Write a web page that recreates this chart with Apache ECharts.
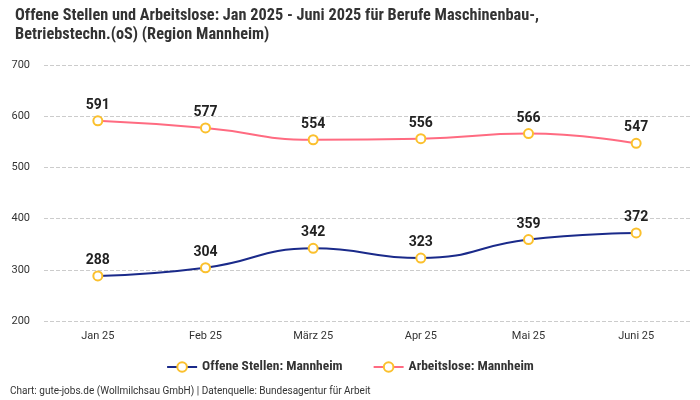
<!DOCTYPE html>
<html><head><meta charset="utf-8">
<script src="https://cdn.jsdelivr.net/npm/echarts@6/dist/echarts.min.js"></script>
<style>html,body{margin:0;padding:0;background:#fff}#c{width:700px;height:400px}</style>
</head><body><div id="c"></div>
<script>
const categories = ['Jan 25','Feb 25','März 25','Apr 25','Mai 25','Juni 25'];
const offeneStellen = [288,304,342,323,359,372];
const arbeitslose = [591,577,554,556,566,547];
const yTicks = [200,300,400,500,600,700];

const chart = echarts.init(document.getElementById('c'));
const lbl = {show:true, position:'top', distance:3, fontFamily:'Roboto', fontWeight:'bold', fontSize:14, color:'#222'};
chart.setOption({
  animation:false,
  title:{
    text:'Offene Stellen und Arbeitslose: Jan 2025 - Juni 2025 für Berufe Maschinenbau-,\nBetriebstechn.(oS) (Region Mannheim)',
    left:10, top:1,
    textStyle:{fontFamily:'Roboto Condensed, Liberation Sans Narrow, Roboto', fontWeight:'bold', fontSize:16.3, color:'#333', lineHeight:19}
  },
  grid:{left:44, right:10, top:65, bottom:79},
  legend:{
    bottom:21, left:'center', itemGap:30, itemWidth:30, itemHeight:12,
    textStyle:{fontFamily:'Roboto Condensed, Roboto', fontWeight:'bold', fontSize:13.5, color:'#333'},
    data:['Offene Stellen: Mannheim','Arbeitslose: Mannheim']
  },
  graphic:[{type:'text', left:10, bottom:4, style:{text:'Chart: gute-jobs.de (Wollmilchsau GmbH) | Datenquelle: Bundesagentur für Arbeit', fontFamily:'Roboto', fontSize:10, fill:'#333'}}],
  xAxis:{type:'category', data:categories, boundaryGap:true,
    axisLine:{show:false}, axisTick:{show:false},
    axisLabel:{fontFamily:'Roboto', fontSize:11, color:'#333', margin:10}},
  yAxis:{type:'value', min:yTicks[0], max:yTicks[yTicks.length-1], interval:100,
    axisLabel:{fontFamily:'Roboto', fontSize:11, color:'#333', margin:14},
    splitLine:{lineStyle:{type:'dashed', color:'#ccc'}}},
  series:[
    {name:'Offene Stellen: Mannheim', type:'line', smooth:true, data:offeneStellen,
     symbol:'circle', symbolSize:9, lineStyle:{color:'#1a2a8a', width:2},
     itemStyle:{color:'#fff', borderColor:'#fbc02d', borderWidth:2}, label:lbl},
    {name:'Arbeitslose: Mannheim', type:'line', smooth:true, data:arbeitslose,
     symbol:'circle', symbolSize:9, lineStyle:{color:'#ff6b81', width:2},
     itemStyle:{color:'#fff', borderColor:'#fbc02d', borderWidth:2}, label:lbl}
  ]
});
</script></body></html>
